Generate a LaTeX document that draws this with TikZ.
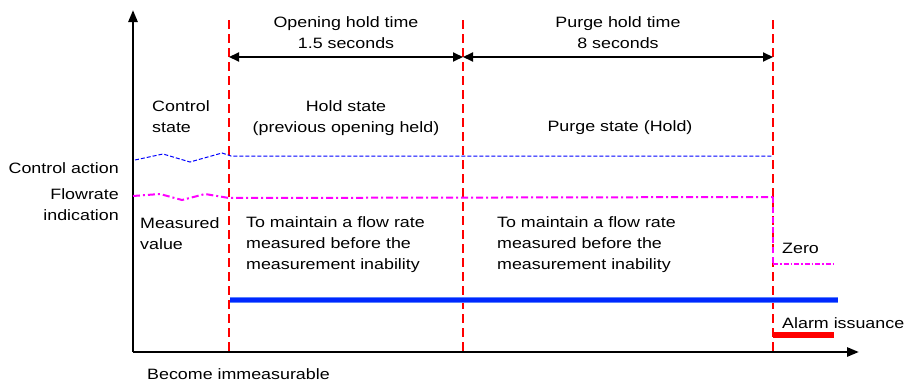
\documentclass[tikz,border=0pt]{standalone}
\usepackage{fontspec}
\setmainfont{Liberation Sans}[FakeStretch=1.19]
\usetikzlibrary{arrows.meta}
\definecolor{mag}{RGB}{255,0,255}
\definecolor{bluebar}{RGB}{0,40,255}
\definecolor{bluebord}{RGB}{90,130,255}
\begin{document}
\begin{tikzpicture}[x=1pt,y=-1pt,
  lbl/.style={font=\fontsize{15}{21}\selectfont, inner sep=0pt},
  axisline/.style={line width=2.6pt, -{Triangle[length=12pt,width=9pt]}},
  reddash/.style={red, line width=2pt, dash pattern=on 9pt off 5pt},
  dimarrow/.style={line width=2pt, {Triangle[length=10pt,width=9pt]}-{Triangle[length=10pt,width=9pt]}},
  ctrlline/.style={blue, line width=1pt, dash pattern=on 4pt off 2pt},
  flowline/.style={mag, line width=2pt, dash pattern=on 7pt off 3pt on 2pt off 3pt},
]
\useasboundingbox (0,0) rectangle (908,388);
% axes
\coordinate (O) at (133,352);
\coordinate (Ytop) at (133,10);
\coordinate (Xend) at (859,352);
\draw[axisline] (O) -- (Ytop);
\draw[axisline] (O) -- (Xend);
% red vertical markers
\coordinate (r1t) at (229,20); \coordinate (r1b) at (229,352);
\coordinate (r2t) at (463,20); \coordinate (r2b) at (463,352);
\coordinate (r3t) at (773,20); \coordinate (r3b) at (773,352);
\draw[reddash] (r1t) -- (r1b);
\draw[reddash] (r2t) -- (r2b);
\draw[reddash] (r3t) -- (r3b);
% dimension arrows
\coordinate (a1) at (229,57); \coordinate (a2) at (463,57); \coordinate (a3) at (773,57);
\draw[dimarrow] (a1) -- (a2);
\draw[dimarrow] (a2) -- (a3);
\node[lbl, align=center] (t1) at (346,33) {Opening hold time\\1.5 seconds};
\node[lbl, align=center] (t2) at (618,33) {Purge hold time\\8 seconds};
% states
\node[lbl, align=left, anchor=north west] (cs) at (152,100) {Control\\state};
\node[lbl, align=center] (hs) at (346,118) {Hold state\\(previous opening held)};
\node[lbl] (ps) at (620,128) {Purge state (Hold)};
% control action line
\coordinate (c0) at (135,160);
\coordinate (c1) at (163,154);
\coordinate (c2) at (190,162);
\coordinate (c3) at (222,153);
\coordinate (c4) at (231,156);
\coordinate (c5) at (773,156);
\draw[ctrlline] (c0) -- (c1) -- (c2) -- (c3) -- (c4) -- (c5);
% flowrate line
\coordinate (f0) at (133,196);
\coordinate (f1) at (160,194);
\coordinate (f2) at (182,200);
\coordinate (f3) at (205,194);
\coordinate (f4) at (229,198);
\coordinate (f5) at (773,197);
\coordinate (f6) at (773,264);
\coordinate (f7) at (833,264);
\draw[flowline] (f0) -- (f1) -- (f2) -- (f3) -- (f4) -- (f5);
\draw[mag, line width=2pt, dash pattern=on 6pt off 4pt] (f5) -- (f6);
\draw[mag, line width=1.3pt, dash pattern=on 5pt off 2pt on 1.5pt off 2pt] (f6) -- (f7);
% left labels
\node[lbl, anchor=east] (ca) at (119,168) {Control action};
\node[lbl, align=right, anchor=east] (fi) at (119,205) {Flowrate\\indication};
\node[lbl, align=left, anchor=north west] (mv) at (140,217) {Measured\\value};
\node[lbl, align=left, anchor=north west] (m1) at (246,216) {To maintain a flow rate\\measured before the\\measurement inability};
\node[lbl, align=left, anchor=north west] (m2) at (497,216) {To maintain a flow rate\\measured before the\\measurement inability};
\node[lbl, anchor=west] (zero) at (782,248) {Zero};
% blue bar
\coordinate (b0) at (230,300); \coordinate (b1) at (838,300);
\draw[line width=6pt, color=bluebord] (b0) -- (b1);
\draw[line width=3.5pt, color=bluebar] (b0) -- (b1);
% alarm
\node[lbl, anchor=west] (al) at (782,323) {Alarm issuance};
\coordinate (al0) at (773,334.5); \coordinate (al1) at (834,334.5);
\draw[red, line width=6pt] (al0) -- (al1);
% bottom label
\node[lbl, anchor=west] (bi) at (147,374) {Become immeasurable};
\end{tikzpicture}
\end{document}
